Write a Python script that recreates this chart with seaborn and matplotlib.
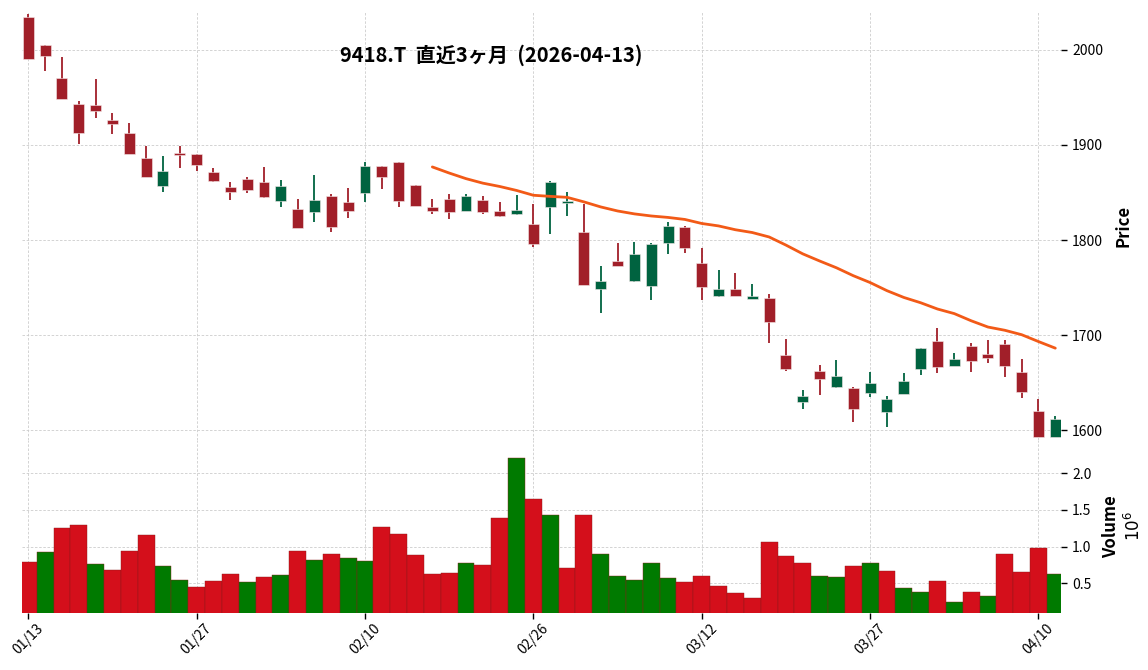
import seaborn as sns
import pandas as pd
import matplotlib.pyplot as plt
import numpy as np

# daily OHLC (yen) and volume (millions of shares), 2026-01-13 .. 2026-04-13
opens = [2035, 2005.3, 1970.5, 1943.2, 1942.1, 1926.3, 1912.6, 1886.3, 1857.2, 1891.6,
         1890.5, 1871.6, 1855.8, 1864.2, 1861, 1841.4, 1832.6, 1829.8, 1846.7, 1840.3,
         1849.8, 1877.9, 1882.1, 1857.9, 1834.7, 1843.2, 1830.8, 1842.1, 1830.5, 1827.7,
         1816.8, 1835, 1839.3, 1808.4, 1748.8, 1777.9, 1756.8, 1752.1, 1797.2, 1813.7,
         1775.8, 1741.1, 1748.4, 1737.9, 1738.9, 1679, 1629.8, 1662.1, 1645.6, 1644.2,
         1639.3, 1619.3, 1638.2, 1664.2, 1693.7, 1667.7, 1688.4, 1680, 1690.5, 1661,
         1620, 1592.6]
highs = [2037.5, 2005.3, 1992.3, 1946, 1969.2, 1933.3, 1922.8, 1899.3, 1888.4, 1899,
         1891, 1875.5, 1860.7, 1866.3, 1876.8, 1863.2, 1842.8, 1868.4, 1848.4, 1854.7,
         1881.8, 1878.2, 1882.1, 1857.9, 1843.5, 1848.1, 1848.1, 1846, 1839.7, 1847,
         1837.6, 1862.1, 1850.2, 1837.6, 1772.3, 1796.5, 1797.6, 1796.5, 1818.6, 1814.7,
         1791.2, 1768.1, 1765.3, 1753.4, 1742.8, 1695.5, 1641.8, 1668.4, 1673.3, 1645,
         1660.7, 1635.5, 1659.7, 1686.3, 1707.4, 1680.7, 1691.2, 1694.4, 1694.4, 1674.4,
         1632.6, 1614.7]
lows = [1990.5, 1978, 1948.4, 1900.7, 1928.1, 1911.3, 1890.5, 1866.3, 1850.8, 1875.5,
        1872.3, 1861.5, 1841.8, 1849.2, 1844.5, 1834.4, 1812.6, 1818.6, 1808.1, 1822.8,
        1840.3, 1853.4, 1834.4, 1835.8, 1827.7, 1821.8, 1830.8, 1827.7, 1824.5, 1826,
        1793, 1806, 1825.6, 1752.9, 1722.8, 1773, 1755.8, 1736.5, 1784.9, 1786.6,
        1736.8, 1739.7, 1741.4, 1737.5, 1691.9, 1661.8, 1621.8, 1636.5, 1644.5, 1608.4,
        1634.7, 1602.8, 1637.6, 1658.2, 1659.7, 1667.7, 1660.7, 1670.2, 1655.8, 1633.4,
        1592.6, 1592.6]
closes = [1990.5, 1994, 1948.4, 1913, 1936.1, 1922.4, 1890.5, 1866.3, 1872.6, 1889.8,
          1879.3, 1862.1, 1850.8, 1852.9, 1845.3, 1856.8, 1812.6, 1842.1, 1814, 1830.8,
          1878.2, 1866.6, 1841.4, 1835.8, 1830.5, 1830.0, 1846.3, 1829.8, 1825.6, 1831.6,
          1795.8, 1861, 1841.4, 1752.9, 1756.8, 1773, 1785.3, 1795.8, 1814.7, 1791.9,
          1750.9, 1748.4, 1741.4, 1741.0, 1714, 1664.5, 1635.8, 1654, 1656.8, 1622.4,
          1649.5, 1632.6, 1651.6, 1686.3, 1666.6, 1674.7, 1672.9, 1676.1, 1667.7, 1640.3,
          1592.6, 1611.6]
volumes = [0.791, 0.927, 1.255, 1.295, 0.764, 0.682, 0.941, 1.159, 0.736, 0.545,
           0.45, 0.532, 0.627, 0.518, 0.586, 0.614, 0.941, 0.818, 0.9, 0.845,
           0.805, 1.268, 1.173, 0.886, 0.627, 0.641, 0.777, 0.75, 1.391, 2.209,
           1.65, 1.432, 0.709, 1.432, 0.9, 0.6, 0.545, 0.777, 0.573, 0.518,
           0.6, 0.464, 0.368, 0.3, 1.064, 0.873, 0.777, 0.6, 0.586, 0.736,
           0.777, 0.668, 0.436, 0.382, 0.532, 0.245, 0.382, 0.327, 0.9, 0.655,
           0.982, 0.627]

jp_holidays = ["2026-02-11", "2026-02-23", "2026-03-20"]
dates = pd.bdate_range("2026-01-13", "2026-04-13", freq="C", holidays=jp_holidays)

df = pd.DataFrame({"Open": opens, "High": highs, "Low": lows, "Close": closes,
                   "Volume": volumes}, index=dates)
df["idx"] = np.arange(len(df))
df["MA25"] = df["Close"].rolling(25).mean()
df["up"] = df["Close"] >= df["Open"]
prev = df["Close"].shift(1).fillna(df["Open"])
df["vol_up"] = df["Close"] > prev

sns.set_theme(style="whitegrid")
plt.rcParams["font.family"] = ["Noto Sans CJK JP", "DejaVu Sans"]
plt.rcParams.update({"text.color": "black", "axes.labelcolor": "black",
                     "xtick.color": "black", "ytick.color": "black"})

UP, DOWN = "#006340", "#a11f29"
VUP, VDOWN = "#007a00", "#d40f1b"

fig = plt.figure(figsize=(11.48, 6.70), dpi=100)
ax = fig.add_axes([0.0192, 0.3433, 0.9049, 0.6388])
axv = fig.add_axes([0.0192, 0.0851, 0.9049, 0.2582], sharex=ax)

# candles
cols = np.where(df["up"], UP, DOWN)
ax.vlines(df["idx"], df["Low"], df["High"], colors=cols, linewidth=1.3, zorder=3)
body_lo = np.minimum(df["Open"], df["Close"])
body_h = np.maximum((df["Close"] - df["Open"]).abs(), 1.2)
ax.bar(df["idx"], body_h, bottom=body_lo, width=0.65, color=cols,
       edgecolor="#f6e9e9", linewidth=0.4, zorder=4)
sns.lineplot(ax=ax, x=df["idx"], y=df["MA25"], color="#f25a17", linewidth=2.0,
             zorder=5, legend=False)

# volume
vcols = np.where(df["vol_up"], VUP, VDOWN)
axv.bar(df["idx"], df["Volume"], width=1.0, color=vcols, edgecolor="#8a1a1a",
        linewidth=0.3, zorder=3)

for a in (ax, axv):
    a.grid(True, linestyle=(0, (3, 2)), color="#cccccc", linewidth=0.6)
    a.set_facecolor("white")
    for s in a.spines.values():
        s.set_visible(False)
    a.yaxis.tick_right()
    a.yaxis.set_label_position("right")
    a.tick_params(axis="y", which="both", right=True, length=4, width=1,
                  color="black", labelsize=10, pad=4)

ax.set_xlim(-0.37, 61.33)
ax.set_ylim(1589.5, 2040)
ax.set_yticks([1600, 1700, 1800, 1900, 2000])
ax.set_xlabel("")
ax.set_ylabel("Price", fontsize=12, fontweight="bold", labelpad=8)
ax.tick_params(axis="x", bottom=False, labelbottom=False)

axv.set_ylim(0.095, 2.455)
axv.set_yticks([0.5, 1.0, 1.5, 2.0])
axv.set_ylabel("Volume\n$10^{6}$", fontsize=12, fontweight="bold", labelpad=8)

tick_pos = [0, 10, 20, 30, 40, 50, 60]
axv.set_xticks(tick_pos)
axv.set_xticklabels([dates[i].strftime("%m/%d") for i in tick_pos], rotation=45)
axv.tick_params(axis="x", bottom=True, length=4, width=1, color="black",
                labelsize=10, pad=2)

fig.text(0.428, 0.918, "9418.T  直近3ヶ月  (2026-04-13)", ha="center", va="center",
         fontsize=14.5, fontweight="bold")

fig.savefig("out.png", dpi=100)
